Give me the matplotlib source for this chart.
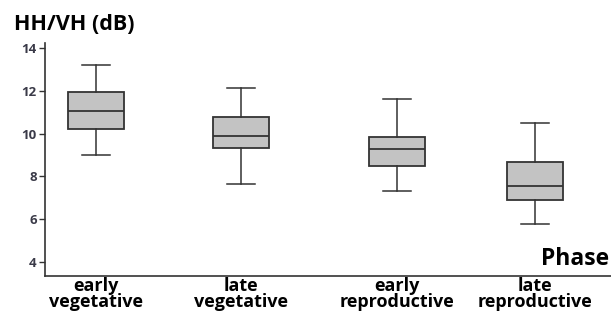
import matplotlib
matplotlib.use("Agg")
import matplotlib.pyplot as plt

# box statistics (dB)
phases = ["early\nvegetative", "late\nvegetative", "early\nreproductive", "late\nreproductive"]
whisker_low = [9.0, 7.66, 7.33, 5.78]
q1 = [10.2, 9.34, 8.5, 6.88]
median = [11.06, 9.9, 9.3, 7.55]
q3 = [11.94, 10.79, 9.84, 8.69]
whisker_high = [13.2, 12.13, 11.62, 10.48]
yticks = [4, 6, 8, 10, 12, 14]

stats = []
for i, name in enumerate(phases):
    stats.append({"label": name, "whislo": whisker_low[i], "q1": q1[i],
                  "med": median[i], "q3": q3[i], "whishi": whisker_high[i],
                  "fliers": []})

plt.rcParams["font.family"] = ["Open Sans", "DejaVu Sans"]

fig = plt.figure(figsize=(6.11, 3.13), dpi=100)
ax = fig.add_axes([45 / 611, 37 / 313, 566 / 611, 233 / 313])

edge = "#333333"
pos = [1, 1.99, 3.06, 4]
ax.bxp(stats, positions=pos, widths=0.383, patch_artist=True,
       boxprops=dict(facecolor="#c3c3c3", edgecolor=edge, linewidth=1.3),
       medianprops=dict(color=edge, linewidth=1.3),
       whiskerprops=dict(color=edge, linewidth=1.1),
       capprops=dict(color=edge, linewidth=1.1))

ax.set_xlim(0.651, 4.52)
ax.set_ylim(3.35, 14.23)
ax.set_yticks(yticks)
ax.set_yticklabels([str(t) for t in yticks], fontsize=9.5, fontweight="bold", color="#3a3a48")
ax.tick_params(axis="y", length=4, width=1, color=edge, pad=2)
ax.tick_params(axis="x", length=0, pad=1)
ax.set_xticks(pos)
ax.set_xticklabels(phases, fontsize=13, fontweight="bold", linespacing=0.8)

ax.spines["top"].set_visible(False)
ax.spines["right"].set_visible(False)
for s in ["left", "bottom"]:
    ax.spines[s].set_color(edge)
    ax.spines[s].set_linewidth(1.2)

fig.text(14 / 611, 1 - 25 / 313, "HH/VH (dB)", fontsize=15.5, fontweight="bold", va="center", ha="left")
fig.text(609 / 611, 1 - 259 / 313, "Phase", fontsize=16.5, fontweight="bold", va="center", ha="right")

fig.savefig("out.png", dpi=100)
